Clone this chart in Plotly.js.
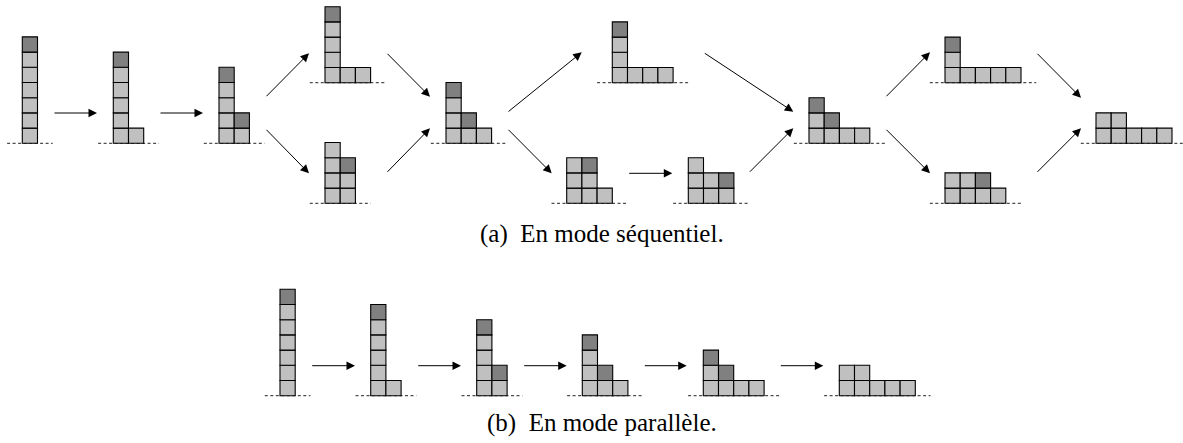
<!DOCTYPE html>
<html><head><meta charset="utf-8">
<script src="https://cdn.plot.ly/plotly-3.0.1.min.js"></script>
<style>html,body{margin:0;padding:0;background:#fff;}#chart{width:1183px;height:443px;}</style>
</head><body><div id="chart"></div>
<script>
// ---- data: sand pile configurations (column heights) ----
const seqHeights = [[7],[6,1],[5,2],[5,1,1],[4,3],[4,2,1],[4,1,1,1],[3,3,1],[3,2,2],[3,2,1,1],[3,1,1,1,1],[2,2,2,1],[2,2,1,1,1]];
const seqActive  = [[0],[0],[0,1],[0],[1],[0,1],[0],[1],[2],[0,1],[0],[2],[]];
const seqEdges   = [[0,1],[1,2],[2,3],[2,4],[3,5],[4,5],[5,6],[5,7],[7,8],[6,9],[8,9],[9,10],[9,11],[10,12],[11,12]];
const parHeights = [[7],[6,1],[5,2],[4,2,1],[3,2,1,1],[2,2,1,1,1]];
const parActive  = [[0],[0],[0,1],[0,1],[0,1],[]];
const parEdges   = [[0,1],[1,2],[2,3],[3,4],[4,5]];
const captions   = ["(a)\u2002En mode séquentiel.", "(b)\u2002En mode parallèle."];

// ---- layout (positions in pixel-like axis units) ----
const S = 15.2;
const seqPos = [[22.3,143.3],[113.3,143.3],[219,143.3],[325,82.7],[325,203.3],[446,143.3],[612.3,82.7],[566.7,203.3],[688.3,203.3],[809,143.3],[945,82.7],[945,203.3],[1096,143.3]];
const seqArrowGeom = [
  [53,113,97,113],[159,113,203,113],[265,97.7,309,53.3],[265,128.3,309,173.3],
  [386,52.3,430,96.7],[386,173.3,430,128.3],[507,112.7,581.7,52.3],[507,128.3,551.7,173.3],
  [627.7,173.3,672.3,173.3],[703.3,52.3,793.3,111.7],[748.3,173.3,793.3,128.3],
  [885,97.7,930,52.3],[885,128.3,930,173.3],[1036,52.3,1081,97.7],[1036,173.3,1081,128.3]];
const parPos = [[280,395.7],[370.7,395.7],[476.7,395.7],[582.3,395.7],[703.3,395.7],[839.3,395.7]];
const parArrowGeom = [[310.7,365.7,355,365.7],[416.7,365.7,461,365.7],[522.7,365.7,566.7,365.7],[643.3,365.7,686.7,365.7],[779.3,365.7,823.3,365.7]];
const captionPos = [[602,234],[602,423]];

const LIGHT = '#c0c0c0', DARK = '#808080';
const shapes = [], annotations = [];

function drawConfig(h, act, pos) {
  const [left, base] = pos;
  // dashed ground line
  shapes.push({type:'line', xref:'x', yref:'y', x0:left - S, x1:left + (h.length + 1) * S, y0:base, y1:base,
    line:{color:'#222', width:1, dash:'3px,2.5px'}, layer:'below'});
  h.forEach((hc, j) => {
    for (let k = 0; k < hc; k++) {
      const dark = (k === hc - 1) && act.includes(j);
      shapes.push({type:'rect', xref:'x', yref:'y',
        x0:left + j * S, x1:left + (j + 1) * S, y0:base - (k + 1) * S, y1:base - k * S,
        fillcolor: dark ? DARK : LIGHT, line:{color:'#000', width:1.1}});
    }
  });
}
function drawArrow(g) {
  annotations.push({x:g[2], y:g[3], ax:g[0], ay:g[1], xref:'x', yref:'y', axref:'x', ayref:'y',
    text:'', showarrow:true, arrowhead:2, arrowsize:1.7, arrowwidth:1, arrowcolor:'#000', standoff:0});
}
seqHeights.forEach((h, i) => drawConfig(h, seqActive[i], seqPos[i]));
parHeights.forEach((h, i) => drawConfig(h, parActive[i], parPos[i]));
seqEdges.forEach((e, i) => drawArrow(seqArrowGeom[i]));
parEdges.forEach((e, i) => drawArrow(parArrowGeom[i]));
captions.forEach((t, i) => annotations.push({x:captionPos[i][0], y:captionPos[i][1], xref:'x', yref:'y',
  text:t, showarrow:false, xanchor:'center', yanchor:'middle',
  font:{family:'"Liberation Serif", "DejaVu Serif", serif', size:25, color:'#000'}}));

Plotly.newPlot('chart', [{x:[0], y:[0], mode:'markers', marker:{opacity:0}, hoverinfo:'skip', showlegend:false}], {
  width:1183, height:443, margin:{l:0, r:0, t:0, b:0},
  paper_bgcolor:'#fff', plot_bgcolor:'#fff', showlegend:false,
  xaxis:{range:[0,1183], visible:false, fixedrange:true},
  yaxis:{range:[443,0], visible:false, fixedrange:true},
  shapes:shapes, annotations:annotations
}, {staticPlot:true});
</script></body></html>
